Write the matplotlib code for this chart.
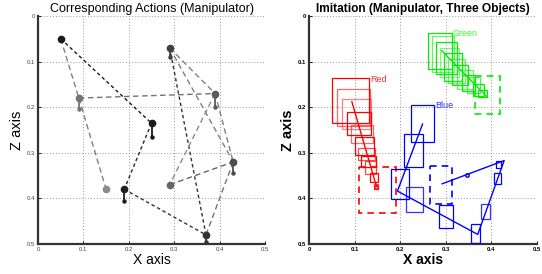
import matplotlib
matplotlib.use("Agg")
import matplotlib.pyplot as plt
from matplotlib.patches import Rectangle

plt.rcParams['font.family'] = ['Liberation Sans', 'DejaVu Sans']

# ---------------- Left panel data ----------------
pt_x = [0.05, 0.09, 0.15, 0.25, 0.19, 0.37, 0.43, 0.29, 0.29, 0.39]
pt_z = [0.05, 0.18, 0.38, 0.235, 0.38, 0.48, 0.32, 0.37, 0.07, 0.17]
pt_gray = [0.1, 0.45, 0.55, 0.1, 0.12, 0.2, 0.3, 0.4, 0.25, 0.35]
# segments: (from, to, gray level)
seg_from = [0, 0, 1, 1, 3, 4, 5, 8, 8, 9, 9, 7, 6]
seg_to   = [3, 1, 2, 9, 4, 5, 8, 9, 6, 7, 6, 6, 5]
seg_gray = [0.1, 0.5, 0.5, 0.45, 0.15, 0.2, 0.2, 0.5, 0.5, 0.55, 0.5, 0.4, 0.45]
# short grip tails (point index, length in z)
tail_idx = [3, 4, 8, 9, 6, 1, 5]
tail_len = [0.03, 0.025, 0.02, 0.03, 0.025, 0.025, 0.015]

# ---------------- Right panel data ----------------
red_x0 = [0.051, 0.062, 0.072, 0.083, 0.092, 0.101, 0.107, 0.114, 0.123, 0.134, 0.143]
red_x1 = [0.132, 0.134, 0.136, 0.137, 0.141, 0.143, 0.145, 0.146, 0.148, 0.151, 0.152]
red_z0 = [0.136, 0.159, 0.183, 0.211, 0.239, 0.265, 0.290, 0.307, 0.317, 0.344, 0.369]
red_z1 = [0.235, 0.241, 0.248, 0.261, 0.279, 0.305, 0.316, 0.332, 0.347, 0.365, 0.380]
red_alpha = [1.0, 0.6, 0.5, 1.0, 0.6, 1.0, 0.7, 1.0, 0.7, 1.0, 0.8]
red_path_x = [0.094, 0.148]
red_path_z = [0.188, 0.374]
red_goal = [0.11, 0.19, 0.332, 0.432]

green_x0 = [0.262, 0.270, 0.279, 0.287, 0.296, 0.304, 0.314, 0.324, 0.335, 0.346, 0.359, 0.371]
green_x1 = [0.314, 0.318, 0.324, 0.329, 0.335, 0.342, 0.349, 0.359, 0.364, 0.374, 0.384, 0.390]
green_z0 = [0.037, 0.044, 0.056, 0.071, 0.082, 0.095, 0.107, 0.118, 0.129, 0.134, 0.149, 0.162]
green_z1 = [0.116, 0.122, 0.128, 0.134, 0.142, 0.148, 0.151, 0.159, 0.164, 0.168, 0.175, 0.178]
green_alpha = [1.0, 0.6, 1.0, 0.5, 1.0, 0.6, 1.0, 0.6, 1.0, 0.7, 1.0, 1.0]
green_path_x = [0.291, 0.39]
green_path_z = [0.076, 0.177]
green_goal = [0.365, 0.418, 0.132, 0.214]

blue_x0 = [0.224, 0.208, 0.180, 0.212, 0.284, 0.355, 0.377, 0.406, 0.411]
blue_x1 = [0.275, 0.251, 0.220, 0.249, 0.315, 0.376, 0.398, 0.421, 0.421]
blue_z0 = [0.195, 0.259, 0.336, 0.374, 0.415, 0.457, 0.413, 0.344, 0.319]
blue_z1 = [0.277, 0.332, 0.402, 0.430, 0.464, 0.497, 0.445, 0.368, 0.334]
blue_alpha = [1.0, 1.0, 1.0, 0.8, 1.0, 1.0, 0.8, 1.0, 1.0]
blue_path_x = [0.249, 0.194, 0.370, 0.428, 0.292]
blue_path_z = [0.237, 0.384, 0.479, 0.317, 0.368]
blue_mark = [0.347, 0.348]
blue_goal = [0.265, 0.314, 0.330, 0.412]

labels = ['Red', 'Green', 'Blue']
label_x = [0.134, 0.314, 0.276]
label_z = [0.14, 0.038, 0.197]
label_col = ['#ff3030', '#30ff30', '#3030ff']

ticks = [0, 0.1, 0.2, 0.3, 0.4, 0.5]
tick_labels = ['0', '0.1', '0.2', '0.3', '0.4', '0.5']

fig = plt.figure(figsize=(5.42, 2.74), dpi=100)
axL = fig.add_axes([38/542, 30/274, 227/542, 228/274])
axR = fig.add_axes([309/542, 30/274, 228/542, 228/274])


def style(ax, bold):
    ax.set_xlim(0, 0.5)
    ax.set_ylim(0.5, 0)
    ax.set_xticks(ticks)
    ax.set_yticks(ticks)
    w = 'bold' if bold else 'normal'
    col = 'black' if bold else '#444444'
    ax.set_xticklabels(tick_labels, fontsize=4.3, fontweight=w, color=col)
    ax.set_yticklabels(tick_labels, fontsize=4.3, fontweight=w, color=col)
    ax.tick_params(direction='in', length=2, width=0.6, pad=2)
    ax.grid(True, linestyle=(0, (1, 2)), color='#999999', linewidth=0.7)
    ax.set_axisbelow(True)
    for s in ['top', 'right']:
        ax.spines[s].set_visible(False)
    ax.spines['left'].set_linewidth(1.6)
    ax.spines['bottom'].set_linewidth(1.6)
    ax.spines['left'].set_color('#333333')
    ax.spines['bottom'].set_color('#333333')
    ax.set_xlabel('X axis', fontsize=10, fontweight=w, labelpad=1)
    ax.set_ylabel('Z axis', fontsize=10.5, fontweight=w, labelpad=2)


# ---- Left ----
style(axL, False)
axL.set_title('Corresponding Actions (Manipulator)', fontsize=9, pad=3)
for a, b, g in zip(seg_from, seg_to, seg_gray):
    c = (g, g, g)
    dash = (0, (2.5, 2)) if g < 0.3 else (0, (4, 2.5))
    axL.plot([pt_x[a], pt_x[b]], [pt_z[a], pt_z[b]], color=c, lw=1.0,
             linestyle=dash, zorder=2)
for i, L in zip(tail_idx, tail_len):
    g = pt_gray[i]
    axL.plot([pt_x[i], pt_x[i]], [pt_z[i], pt_z[i] + L], color=(g, g, g),
             lw=1.3, marker='o', markersize=2.2, markevery=[1], zorder=3)
for x, z, g in zip(pt_x, pt_z, pt_gray):
    axL.plot(x, z, 'o', color=(g, g, g), markersize=4.5, zorder=4)

# ---- Right ----
style(axR, True)
axR.set_title('Imitation (Manipulator, Three Objects)', fontsize=8.6,
              fontweight='bold', pad=3)


def boxes(ax, x0s, x1s, z0s, z1s, alphas, color):
    for x0, x1, z0, z1, a in zip(x0s, x1s, z0s, z1s, alphas):
        ax.add_patch(Rectangle((x0, z0), x1 - x0, z1 - z0, fill=False,
                               edgecolor=color, alpha=a, lw=0.9, zorder=3))


def goal(ax, g, color):
    ax.add_patch(Rectangle((g[0], g[2]), g[1] - g[0], g[3] - g[2], fill=False,
                           edgecolor=color, lw=1.2, linestyle=(0, (4, 3)),
                           zorder=3))


boxes(axR, red_x0, red_x1, red_z0, red_z1, red_alpha, '#ff0000')
axR.plot(red_path_x, red_path_z, color='#ff0000', lw=1.0, zorder=4)
axR.plot(red_path_x[-1], red_path_z[-1], 'o', mfc='none', mec='#ff0000',
         markersize=2.5, zorder=4)
goal(axR, red_goal, '#ff0000')

boxes(axR, green_x0, green_x1, green_z0, green_z1, green_alpha, '#00ee00')
axR.plot(green_path_x, green_path_z, color='#00ee00', lw=1.0, zorder=4)
goal(axR, green_goal, '#00ee00')

boxes(axR, blue_x0, blue_x1, blue_z0, blue_z1, blue_alpha, '#0000ff')
axR.plot(blue_path_x, blue_path_z, color='#0000ff', lw=1.0, zorder=4)
axR.plot(blue_mark[0], blue_mark[1], 'o', mfc='none', mec='#0000ff',
         markersize=2.5, zorder=4)
goal(axR, blue_goal, '#0000ff')

for t, x, z, c in zip(labels, label_x, label_z, label_col):
    axR.text(x, z, t, color=c, fontsize=6.5, ha='left', va='center', zorder=5)

fig.savefig('out.png', dpi=100)
